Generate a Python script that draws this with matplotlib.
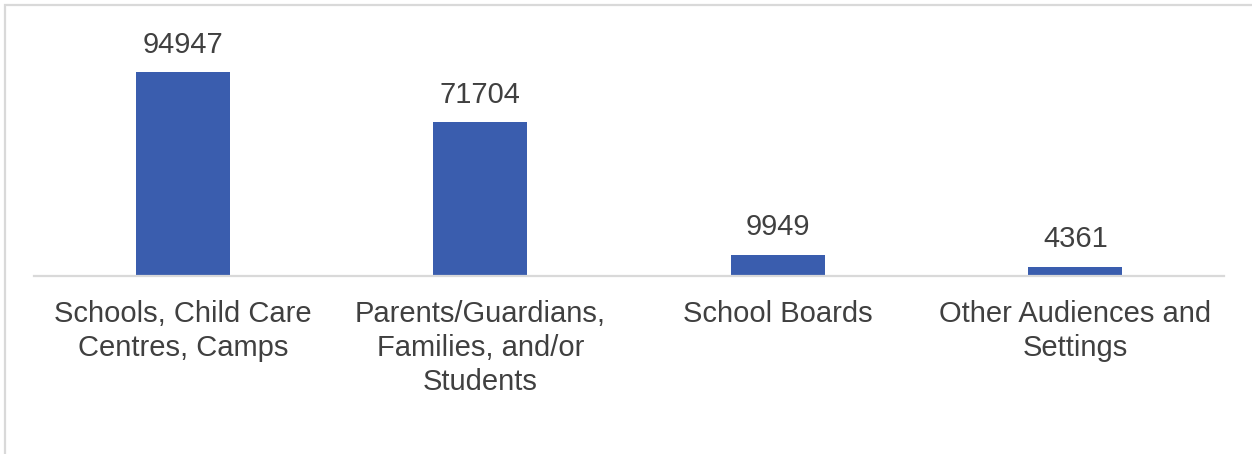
import matplotlib
matplotlib.use("Agg")
import matplotlib.pyplot as plt
from matplotlib.patches import Rectangle

categories = [
    "Schools, Child Care\nCentres, Camps",
    "Parents/Guardians,\nFamilies, and/or\nStudents",
    "School Boards",
    "Other Audiences and\nSettings",
]
values = [94947, 71704, 9949, 4361]

plt.rcParams["font.family"] = ["Liberation Sans", "DejaVu Sans"]

W, H = 1252, 454
fig = plt.figure(figsize=(W / 100, H / 100), dpi=100)
fig.patch.set_facecolor("white")

# outer frame (top and left edges visible)
fig.add_artist(Rectangle((5 / W, -0.5), 1.5, 1 - 5 / H + 0.5,
                         transform=fig.transFigure, fill=False,
                         edgecolor="#D9D9D9", linewidth=1.6))

left, right = 34 / W, 1224 / W
bottom = (H - 276) / H
top_px = 276 - 204 * 100000 / 94947
ax = fig.add_axes([left, bottom, right - left, (276 - top_px) / H])

x = list(range(len(categories)))
bars = ax.bar(x, values, width=0.316, color="#3A5DAE")
ax.set_xlim(-0.5, len(categories) - 0.5)
ax.set_ylim(0, 100000)

for b, v in zip(bars, values):
    ax.annotate(f"{v}", (b.get_x() + b.get_width() / 2, v),
                xytext=(0, 9.5), textcoords="offset points",
                ha="center", va="bottom", fontsize=21, color="#404040")

ax.set_xticks(x)
ax.set_xticklabels(categories, fontsize=21, color="#404040", linespacing=1.26)
ax.tick_params(axis="x", length=0, pad=17.5)
ax.set_yticks([])
for s in ["top", "left", "right"]:
    ax.spines[s].set_visible(False)
ax.spines["bottom"].set_color("#D9D9D9")
ax.spines["bottom"].set_linewidth(1.6)

fig.savefig("out.png", dpi=100, facecolor="white")
